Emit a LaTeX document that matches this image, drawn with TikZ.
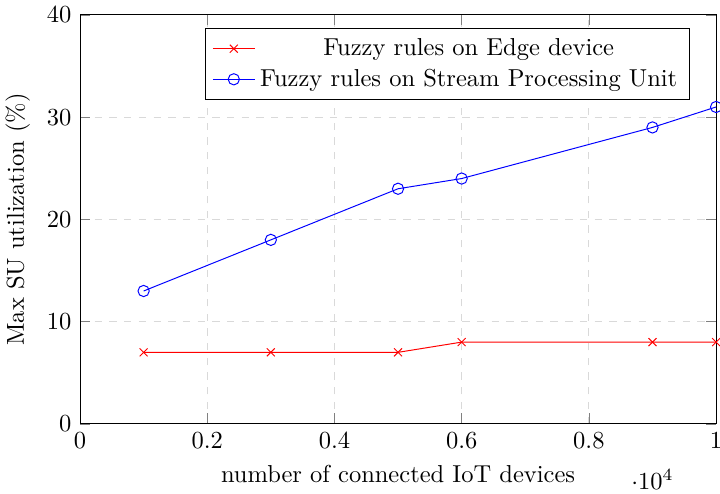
\documentclass[tikz,border=0pt]{standalone}
\usepackage{tikz}
\usepackage{xcolor}
\usepackage{amsmath,amsfonts,amssymb}
\usepackage{pgfplots}
\pgfplotsset{compat=1.18}

\begin{document}
\begin{tikzpicture}
                \useasboundingbox (-32.65pt, -28.6pt) rectangle (261.2pt, 173pt);

                \begin{axis}[
                    name=suplot,
                    at={(0,0)}, anchor=south west,
                    scale only axis,
                    width=259.6pt, height=166.9pt,
                    xmin=0, xmax=10000,
                    ymin=0, ymax=40,
                    xtick={0,2000,4000,6000,8000,10000},
                    ytick={0,10,20,30,40},
                    grid=major,
                    grid style={dashed,gray!30},
                    xlabel={number of connected IoT devices},
                    ylabel={Max SU utilization (\%)},
                    legend cell align=center,
                    legend style={at={(rel axis cs:0.959,0.968)}, anchor=north east},
                ]
                \addplot[color=red, mark=x, mark size=2.3pt] coordinates {
                    (1000,7) (3000,7) (5000,7) (6000,8) (9000,8) (10000,8)
                };
                \addlegendentry{Fuzzy rules on Edge device}

                \addplot[color=blue, mark=o, mark size=2.3pt] coordinates {
                    (1000,13) (3000,18) (5000,23) (6000,24) (9000,29) (10000,31)
                };
                \addlegendentry{Fuzzy rules on Stream Processing Unit}
                \end{axis}
            \end{tikzpicture}
\end{document}
